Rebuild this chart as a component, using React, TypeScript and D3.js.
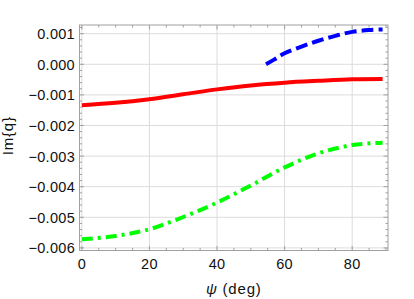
import * as d3 from "d3";

// psi in degrees, Im{q} values
const psiRed = [0, 10, 20, 30, 40, 50, 60, 70, 80, 89];
const imRed = [-0.00134, -0.00126, -0.00114, -0.00098, -0.00082, -0.00069, -0.0006, -0.00054, -0.00049, -0.00048];

const psiGreen = [0, 10, 20, 30, 40, 50, 60, 70, 80, 89];
const imGreen = [-0.00572, -0.00561, -0.00539, -0.00499, -0.00452, -0.00396, -0.00337, -0.00291, -0.00264, -0.00256];

const psiBlue = [54.5, 57, 60, 65, 70, 75, 80, 85, 89];
const imBlue = [0.0, 0.00016, 0.00036, 0.00058, 0.00077, 0.00093, 0.00106, 0.00112, 0.00114];

const xTicks = [0, 20, 40, 60, 80];
const yTicks = [0.001, 0, -0.001, -0.002, -0.003, -0.004, -0.005, -0.006];

const width = 414;
const height = 299;
const left = 79.5;
const right = 388;
const top = 25;
const bottom = 250.5;

export default function App() {
  const x = d3.scaleLinear([-0.7, 90.6], [left, right]);
  const y = d3.scaleLinear([-0.006085, 0.001284], [bottom, top]);

  const line = (xs: number[], ys: number[]) =>
    d3.line<number>()
      .x((_, i) => x(xs[i]))
      .y((d) => y(d))
      .curve(d3.curveCatmullRom)(ys) ?? undefined;

  const xMinor = d3.range(0, 91, 5);
  const yMinor = d3.range(-6, 1.3, 0.2).map((d) => d * 0.001);
  const fmt = d3.format(".3f");
  const frame = "#a0a0a0";
  const font = "'Liberation Sans', Arial, sans-serif";

  return (
    <svg width={width} height={height} style={{ position: "absolute", left: 0, top: 0 }} fontFamily={font}>
      <rect width={width} height={height} fill="white" />

      {/* grid */}
      <g stroke="#dcdcdc" strokeWidth={1}>
        {xTicks.map((t) => (
          <line key={"gx" + t} x1={x(t)} x2={x(t)} y1={top} y2={bottom} />
        ))}
        {yTicks.map((t) => (
          <line key={"gy" + t} x1={left} x2={right} y1={y(t)} y2={y(t)} />
        ))}
      </g>

      {/* curves */}
      <path d={line(psiRed, imRed)} fill="none" stroke="#ff0000" strokeWidth={4} />
      <path d={line(psiBlue, imBlue)} fill="none" stroke="#0000ff" strokeWidth={4} strokeDasharray="12,5" />
      <path d={line(psiGreen, imGreen)} fill="none" stroke="#00ff00" strokeWidth={4} strokeDasharray="11,5,3,5" />

      {/* frame */}
      <rect x={left} y={top} width={right - left} height={bottom - top} fill="none" stroke={frame} strokeWidth={1} />

      {/* ticks */}
      <g stroke={frame} strokeWidth={1}>
        {xMinor.map((t) => {
          const len = t % 20 === 0 ? 4.5 : 2.5;
          return (
            <g key={"tx" + t}>
              <line x1={x(t)} x2={x(t)} y1={bottom} y2={bottom - len} />
              <line x1={x(t)} x2={x(t)} y1={top} y2={top + len} />
            </g>
          );
        })}
        {yMinor.map((t, i) => {
          const len = i % 5 === 0 ? 4.5 : 2.5;
          return (
            <g key={"ty" + i}>
              <line x1={left} x2={left + len} y1={y(t)} y2={y(t)} />
              <line x1={right} x2={right - len} y1={y(t)} y2={y(t)} />
            </g>
          );
        })}
      </g>

      {/* tick labels */}
      <g fontSize={14.5} fill="#111" letterSpacing={0.3}>
        {xTicks.map((t) => (
          <text key={"lx" + t} x={x(t)} y={269} textAnchor="middle">{t}</text>
        ))}
        {yTicks.map((t) => (
          <text key={"ly" + t} x={75} y={y(t) + 5.5} textAnchor="end">{fmt(t)}</text>
        ))}
      </g>

      {/* axis titles */}
      <text x={(left + right) / 2} y={294} textAnchor="middle" fontSize={15} fill="#111" letterSpacing={0.8}>
        <tspan fontStyle="italic">ψ</tspan> (deg)
      </text>
      <text transform={`translate(13,${(top + bottom) / 2 - 2}) rotate(-90)`} textAnchor="middle" fontSize={15} fill="#111" letterSpacing={0.8}>
        Im{"{q}"}
      </text>
    </svg>
  );
}
